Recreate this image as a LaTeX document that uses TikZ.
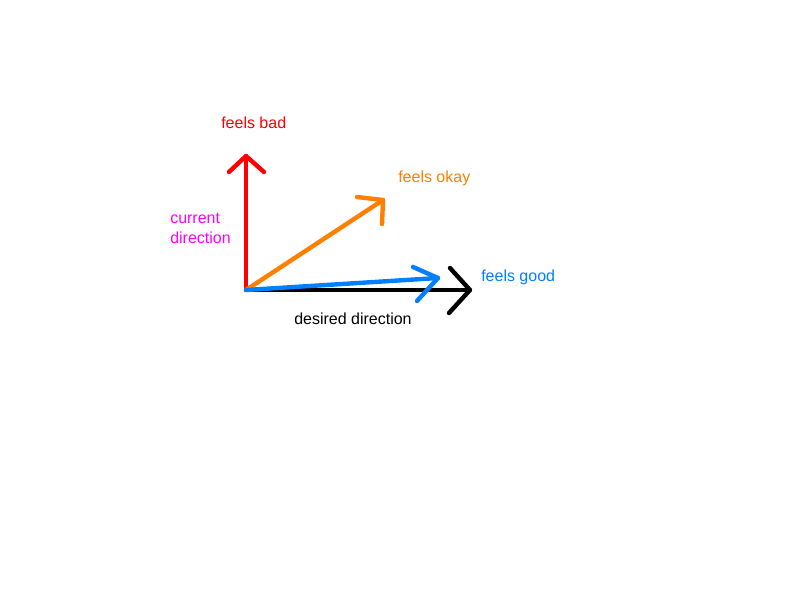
\documentclass[tikz,border=0pt]{standalone}
\usepackage{fontspec}
\setmainfont{Liberation Sans}
\definecolor{cred}{RGB}{255,0,0}
\definecolor{corange}{RGB}{255,128,0}
\definecolor{cblue}{RGB}{0,128,255}
\definecolor{cmag}{RGB}{255,0,255}
\begin{document}
\begin{tikzpicture}[x=0.75pt,y=-0.75pt,
  vec/.style={line width=3.3pt,line cap=round,line join=round},
  lbl/.style={anchor=base west,inner sep=0pt,font=\fontsize{12}{14}\selectfont}]
\useasboundingbox (0,0) rectangle (800,600);
\coordinate (O) at (246,290);
% black
\coordinate (tK) at (470,290);
\coordinate (k1) at (450,268);
\coordinate (k2) at (449,313);
\draw[vec,black] (O) -- (tK);
\draw[vec,black] (k1) -- (tK) -- (k2);
% red
\coordinate (tR) at (246,156);
\coordinate (r1) at (229,172);
\coordinate (r2) at (264,172);
\draw[vec,cred] (O) -- (tR);
\draw[vec,cred] (r1) -- (tR) -- (r2);
% orange
\coordinate (tO) at (383,200);
\coordinate (o1) at (357,197);
\coordinate (o2) at (382,224);
\draw[vec,corange] (O) -- (tO);
\draw[vec,corange] (o1) -- (tO) -- (o2);
% blue
\coordinate (tB) at (438,278);
\coordinate (b1) at (413,267);
\coordinate (b2) at (417,301);
\draw[vec,cblue] (O) -- (tB);
\draw[vec,cblue] (b1) -- (tB) -- (b2);
% labels
\node[lbl,text=cred] (lbad) at (221,128) {feels bad};
\node[lbl,text=corange] (lokay) at (398,182) {feels okay};
\node[lbl,text=cmag] (lcur1) at (170,223) {current};
\node[lbl,text=cmag] (lcur2) at (170,243) {direction};
\node[lbl,text=cblue] (lgood) at (481,281) {feels good};
\node[lbl,text=black] (ldes) at (294,324) {desired direction};
\end{tikzpicture}
\end{document}
